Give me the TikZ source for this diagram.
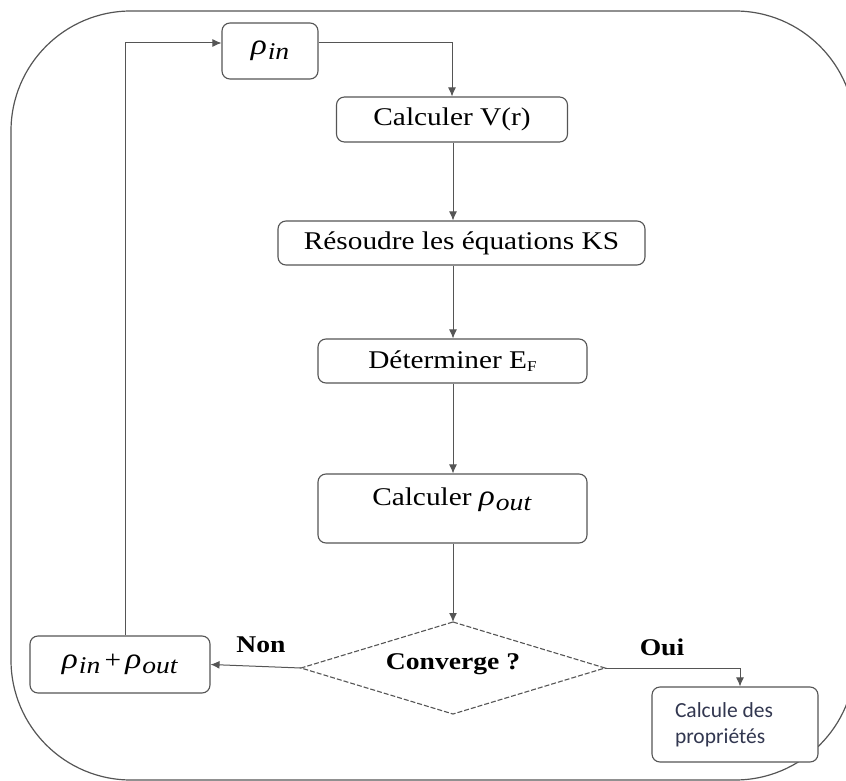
\documentclass[tikz,border=0pt]{standalone}
\usepackage{fontspec}
\setmainfont[FakeStretch=1.15]{Liberation Serif}
\newfontfamily\calib{Carlito}
\usetikzlibrary{arrows.meta}
\definecolor{edgegray}{RGB}{85,85,85}
\definecolor{propblue}{RGB}{50,55,80}
\newcommand{\rhosub}[1]{{\fontsize{29}{30}\selectfont\textit{ρ}}\kern1pt\raisebox{-5pt}{\fontsize{24}{26}\selectfont\textit{#1}}}
\begin{document}
\begin{tikzpicture}[x=1pt,y=-1pt,
  box/.style={draw=edgegray, line width=1.1pt, rounded corners=8pt, fill=white, inner sep=0pt},
  txt/.style={font=\fontsize{25.5}{30}\selectfont, inner sep=0pt},
  btxt/.style={font=\fontsize{24}{28}\selectfont\bfseries, inner sep=0pt},
  conn/.style={draw=edgegray, line width=1pt},
  arr/.style={conn, -{Latex[length=9pt,width=8pt]}},
  frame/.style={draw=edgegray, line width=1.2pt, rounded corners=120pt}]
\useasboundingbox (0,0) rectangle (846,781);
\draw[frame] (11,11) rectangle (855,780);

\node[box, txt, minimum width=96pt, minimum height=56pt] (rin) at (270,51) {\rhosub{in}};
\node[box, txt, minimum width=231pt, minimum height=45pt] (vr) at (452,119.5) {Calculer V(r)};
\node[box, txt, minimum width=367pt, minimum height=44pt] (ks) at (461.5,243) {Résoudre les équations KS};
\node[box, txt, minimum width=269pt, minimum height=44pt] (ef) at (452.5,361) {Déterminer E\raisebox{-3pt}{\fontsize{15}{15}\selectfont F}};
\node[box, minimum width=269pt, minimum height=69pt] (out) at (452.5,508.5) {};
\node[txt] (outlbl) at (452,500) {Calculer \rhosub{out}};
\node[box, txt, minimum width=180pt, minimum height=57pt] (sum) at (120,664.5) {\rhosub{in}\,+\,\rhosub{out}};
\node[box, minimum width=166pt, minimum height=75pt] (prop) at (735,724.5) {};
\node[inner sep=0pt, align=left, font=\calib\fontsize{21.5}{26}\selectfont, text=propblue] (proplbl) at (724,725) {Calcule des\\propriétés};

\coordinate (dt) at (453,622);
\coordinate (dl) at (301,668);
\coordinate (dr) at (605,668);
\coordinate (db) at (453,714);
\draw[draw=edgegray, line width=1.1pt, dash pattern=on 5pt off 2pt] (dt) -- (dr) -- (db) -- (dl) -- cycle;
\node[btxt] (conv) at (453,664) {Converge ?};
\node[btxt] (non) at (261,645) {Non};
\node[btxt] (oui) at (662,647) {Oui};

\draw[arr] ([yshift=8pt]rin.east) -| (vr.north);
\draw[arr] (vr.south -| 453,0) -- (ks.north -| 453,0);
\draw[arr] (ks.south -| 453,0) -- (ef.north -| 453,0);
\draw[arr] (ef.south -| 453,0) -- (out.north -| 453,0);
\draw[arr] (out.south -| 453,0) -- (dt);
\draw[arr] (dl) -- (sum.east);
\draw[arr] ([xshift=5pt]sum.north) |- ([yshift=8pt]rin.west);
\draw[arr] (dr) -| ([xshift=5pt]prop.north);
\end{tikzpicture}
\end{document}
